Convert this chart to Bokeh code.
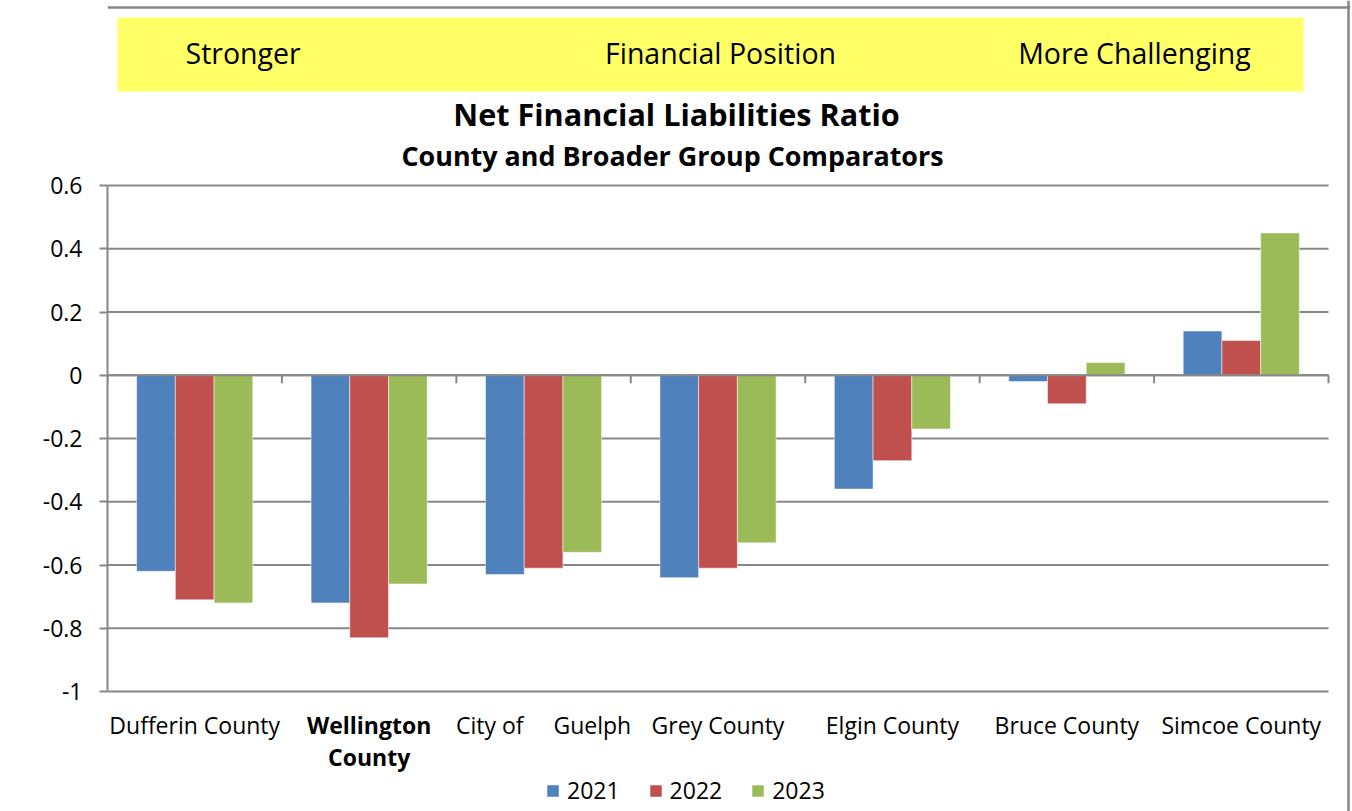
from bokeh.plotting import figure
from bokeh.models import (Range1d, FixedTicker, Label, Legend, LegendItem, Span,
                          ColumnDataSource, BoxAnnotation)
from bokeh.embed import file_html
from bokeh.resources import INLINE

# ---------------- data ----------------
categories = ["Dufferin County", "Wellington County", "City of Guelph", "Grey County",
              "Elgin County", "Bruce County", "Simcoe County"]
label_lines = [["Dufferin County"], ["Wellington", "County"], ["City of\u00a0\u00a0\u00a0\u00a0\u00a0Guelph"],
               ["Grey County"], ["Elgin County"], ["Bruce County"], ["Simcoe County"]]
bold_category = "Wellington County"
years = ["2021", "2022", "2023"]
v2021 = [-0.62, -0.72, -0.63, -0.64, -0.36, -0.02, 0.14]
v2022 = [-0.71, -0.83, -0.61, -0.61, -0.27, -0.09, 0.11]
v2023 = [-0.72, -0.66, -0.56, -0.53, -0.17, 0.04, 0.45]
series = [v2021, v2022, v2023]
colors = ["#4F81BD", "#C0504D", "#9BBB59"]
y_ticks = [-1.0, -0.8, -0.6, -0.4, -0.2, 0.0, 0.2, 0.4, 0.6]
y_tick_labels = ["-1", "-0.8", "-0.6", "-0.4", "-0.2", "0", "0.2", "0.4", "0.6"]
band_texts = ["Stronger", "Financial Position", "More Challenging"]
title_text = "Net Financial Liabilities Ratio"
subtitle_text = "County and Broader Group Comparators"

FONT = "Open Sans"
GRAY = "#878787"
W, H = 1352, 811

# ---------------- geometry (pixels) ----------------
FL, FR = 107, 1350          # frame left / right
AX_R = 1328                 # end of the value-axis area
Y_TOP_PX, Y_BOT_PX = 185, 691
YMIN, YMAX = y_ticks[0], y_ticks[-1]
n = len(categories)
cw = (AX_R - FL) / n        # px per category
k = (YMAX - YMIN) / (Y_BOT_PX - Y_TOP_PX)   # data per px


def dx(px):
    return (px - FL) / cw


def dy(py):
    return YMAX - (py - Y_TOP_PX) * k


def sx(px):
    return px - FL


def sy(py):
    return H - py


p = figure(width=W, height=H, x_range=Range1d(0, dx(FR)), y_range=Range1d(dy(H), dy(0)),
           toolbar_location=None, output_backend="svg", x_axis_type=None,
           min_border_left=FL, min_border_right=W - FR, min_border_top=0, min_border_bottom=0)
p.outline_line_color = None
p.border_fill_color = "white"
p.background_fill_color = "white"
p.ygrid.visible = False

yax = p.yaxis[0]
yax.ticker = FixedTicker(ticks=y_ticks)
yax.bounds = (YMIN, YMAX)
yax.major_label_overrides = {t: s for t, s in zip(y_ticks, y_tick_labels)}
yax.axis_line_color = GRAY
yax.axis_line_width = 2
yax.major_tick_line_color = GRAY
yax.major_tick_line_width = 2
yax.major_tick_out = 8
yax.major_tick_in = 0
yax.minor_tick_line_color = None
yax.major_label_standoff = 17
yax.major_label_text_font = FONT
yax.major_label_text_font_size = "23px"
yax.major_label_text_color = "black"

# yellow band
p.add_layout(BoxAnnotation(left=dx(117), right=dx(1303), top=dy(17), bottom=dy(91),
                           fill_color="#FFFF66", fill_alpha=1, line_color=None, level="underlay"))
band_pos = [(185, "left"), (720, "center"), (1134, "center")]
for txt, (bx, al) in zip(band_texts, band_pos):
    p.add_layout(Label(x=sx(bx), y=sy(52), x_units="screen", y_units="screen", text=txt,
                       text_align=al, text_baseline="middle", text_font=FONT,
                       text_font_size="28.5px", text_color="black"))

# outer frame lines (top and right)
p.add_layout(Span(location=dy(7), dimension="width", line_color=GRAY, line_width=2.5))
p.add_layout(Span(location=dx(1348), dimension="height", line_color=GRAY, line_width=2.5))

# horizontal grid lines
p.segment(x0=[0] * len(y_ticks), y0=y_ticks, x1=[n] * len(y_ticks), y1=y_ticks,
          line_color=GRAY, line_width=2, level="underlay")

bar_w = 0.222
offsets = [-bar_w, 0.0, bar_w]
renderers = []
for vals, col, off in zip(series, colors, offsets):
    src = ColumnDataSource(dict(x=[i + 0.5 + off for i in range(n)], top=vals))
    r = p.vbar(x="x", top="top", bottom=0, width=bar_w, source=src,
               fill_color=col, line_color="white", line_alpha=0.5, line_width=1)
    renderers.append(r)

# category axis line at zero with ticks between categories
bounds = list(range(n + 1))
p.segment(x0=[0], y0=[0], x1=[n], y1=[0], line_color=GRAY, line_width=2)
tick_len = 8 * k
p.segment(x0=bounds, y0=[0] * len(bounds), x1=bounds, y1=[-tick_len] * len(bounds),
          line_color=GRAY, line_width=2)

# category labels
for i, lines in enumerate(label_lines):
    style = "bold" if categories[i] == bold_category else "normal"
    for j, line in enumerate(lines):
        p.add_layout(Label(x=i + 0.5, y=sy(724 + 32 * j), x_units="data", y_units="screen",
                           text=line, text_align="center", text_baseline="middle",
                           text_font=FONT, text_font_size="23px", text_font_style=style,
                           text_color="black"))

# titles
p.add_layout(Label(x=sx(676), y=sy(113), x_units="screen", y_units="screen", text=title_text,
                   text_align="center", text_baseline="middle", text_font=FONT,
                   text_font_size="30.6px", text_font_style="bold", text_color="black"))
p.add_layout(Label(x=sx(672), y=sy(155), x_units="screen", y_units="screen", text=subtitle_text,
                   text_align="center", text_baseline="middle", text_font=FONT,
                   text_font_size="26.9px", text_font_style="bold", text_color="black"))

legend = Legend(items=[LegendItem(label=yr, renderers=[r]) for yr, r in zip(years, renderers)],
                orientation="horizontal", location=(sx(545), 5),
                glyph_width=15, glyph_height=15, label_standoff=7, spacing=28,
                padding=0, margin=0, border_line_color=None, background_fill_alpha=0,
                label_text_font=FONT, label_text_font_size="23px", label_text_color="black")
p.add_layout(legend, "center")

open("out.html", "w").write(file_html(p, INLINE))
